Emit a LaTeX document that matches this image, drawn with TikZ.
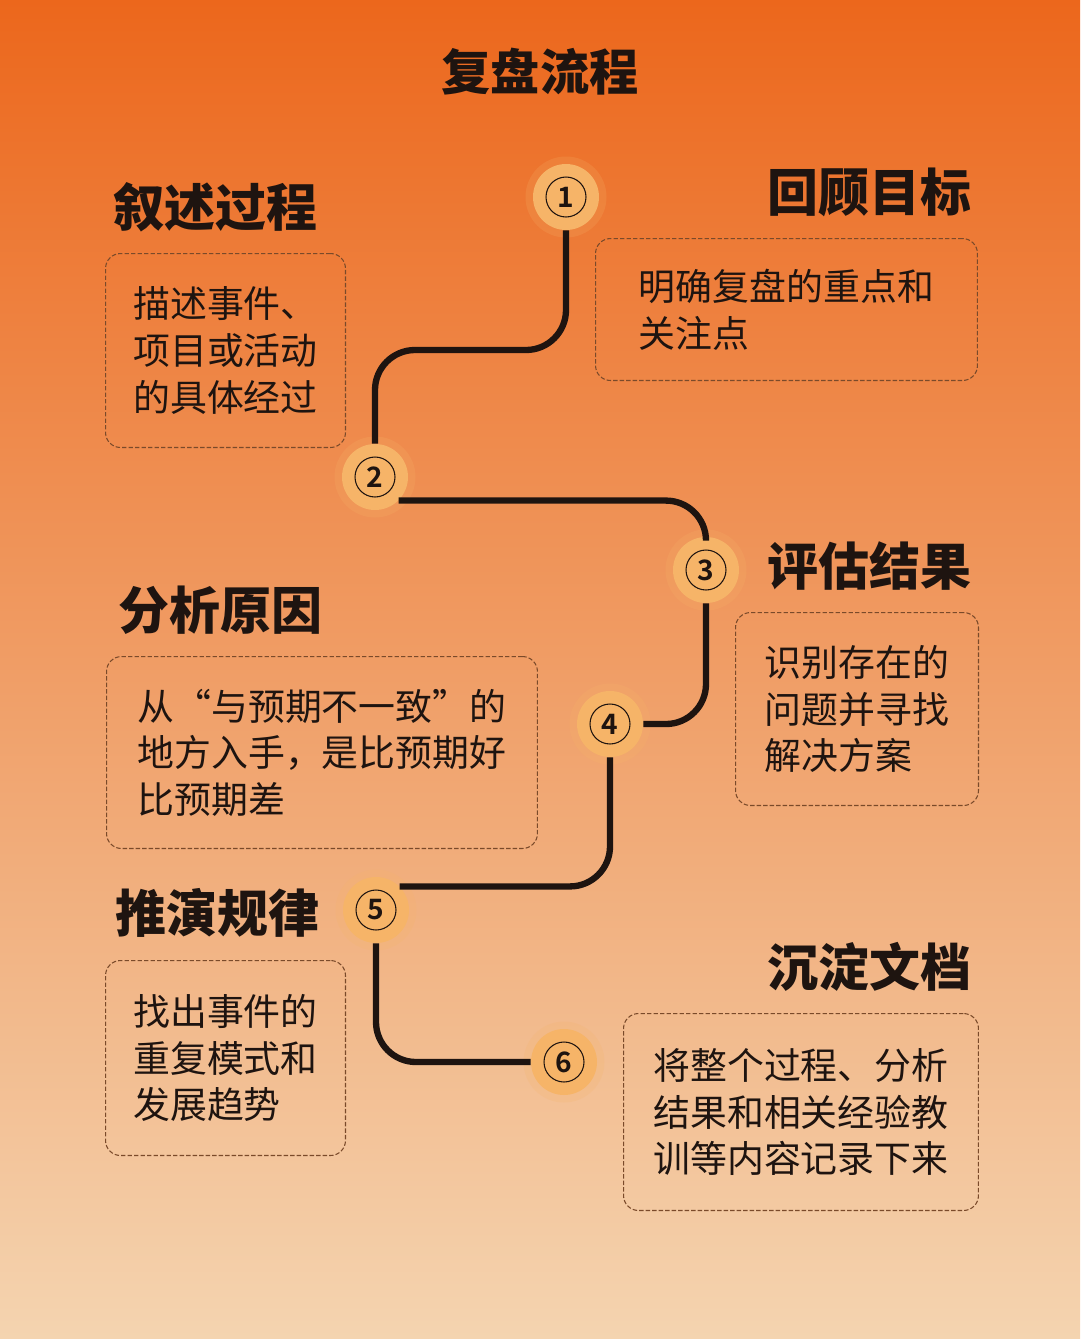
\documentclass[tikz,border=0pt]{standalone}
\usepackage{fontspec}
\setmainfont{Noto Sans CJK SC}[BoldFont={* Bold}]
\newfontfamily\heavyfont{Noto Sans CJK SC Black}
\definecolor{bgtop}{HTML}{EC671C}
\definecolor{bgmid}{HTML}{EF8038}
\definecolor{bgbot}{HTML}{F4D4B0}
\definecolor{dotfill}{HTML}{F6B468}
\definecolor{inkdark}{HTML}{1E1410}
\definecolor{dashbrown}{HTML}{7A4A2A}
\begin{document}
\begin{tikzpicture}[x=0.02cm, y=-0.02cm,
  heading/.style={font=\fontsize{29}{29}\selectfont\heavyfont, inner sep=0, text=inkdark},
  notebox/.style={draw=dashbrown, dash pattern=on 2.5pt off 1.2pt, line width=0.6pt,
    rounded corners=0.3cm, align=left, anchor=north west, text=inkdark,
    font=\fontsize{21}{26.5}\selectfont},
  numdot/.style={circle, fill=dotfill, minimum size=1.32cm, inner sep=0, text=inkdark,
    font=\fontsize{16}{16}\selectfont\bfseries,
    preaction={draw=dotfill, draw opacity=0.2, line width=0.3cm},
    path picture={\draw[line width=0.6pt, draw=inkdark] (path picture bounding box.center) circle (0.4cm);}},
  trail/.style={line width=3.6pt, rounded corners=0.8cm, draw=inkdark}]
\useasboundingbox (0,0) rectangle (1080,1339);
\shade[top color=bgtop, middle color=bgmid, bottom color=bgbot] (0,0) rectangle (1080,1339);

\node[font=\fontsize{28}{28}\selectfont\heavyfont, text=inkdark] (title) at (540,72) {复盘流程};

% steps
\node[numdot] (c1) at (566,197) {1};
\node[numdot] (c2) at (375,477) {2};
\node[numdot] (c3) at (706,570) {3};
\node[numdot] (c4) at (610,724) {4};
\node[numdot] (c5) at (376,910) {5};
\node[numdot] (c6) at (564,1062) {6};

\draw[trail] (c1.south) -- (c1.south |- 0,350) -- (c2.north |- 0,350) -- (c2.north);
\draw[trail] (c2.south east) -- (c2.south east -| c3.north) -- (c3.north);
\draw[trail] (c3.south) |- (c4.east);
\draw[trail] (c4.south) |- (c5.north east);
\draw[trail] (c5.south) |- (c6.west);

% headings
\node[heading, anchor=west] (h2) at (113,207) {叙述过程};
\node[heading, anchor=east] (h1) at (972,192) {回顾目标};
\node[heading, anchor=east] (h3) at (972,566) {评估结果};
\node[heading, anchor=west] (h4) at (118,610) {分析原因};
\node[heading, anchor=west] (h5) at (115,913) {推演规律};
\node[heading, anchor=east] (h6) at (972,967) {沉淀文档};

% boxes
\node[notebox, minimum width=4.8cm, minimum height=3.88cm] (b2) at (105,253) {描述事件、\\项目或活动\\的具体经过};
\node[notebox, minimum width=7.64cm, minimum height=2.84cm] (b1) at (595,238) {明确复盘的重点和\\关注点};
\node[notebox, minimum width=4.86cm, minimum height=3.86cm] (b3) at (735,612) {识别存在的\\问题并寻找\\解决方案};
\node[notebox, minimum width=8.62cm, minimum height=3.84cm] (b4) at (106,656) {从“与预期不一致”的\\地方入手，是比预期好\\比预期差};
\node[notebox, minimum width=4.8cm, minimum height=3.9cm] (b5) at (105,960) {找出事件的\\重复模式和\\发展趋势};
\node[notebox, minimum width=7.1cm, minimum height=3.94cm] (b6) at (623,1013) {将整个过程、分析\\结果和相关经验教\\训等内容记录下来};
\end{tikzpicture}
\end{document}
